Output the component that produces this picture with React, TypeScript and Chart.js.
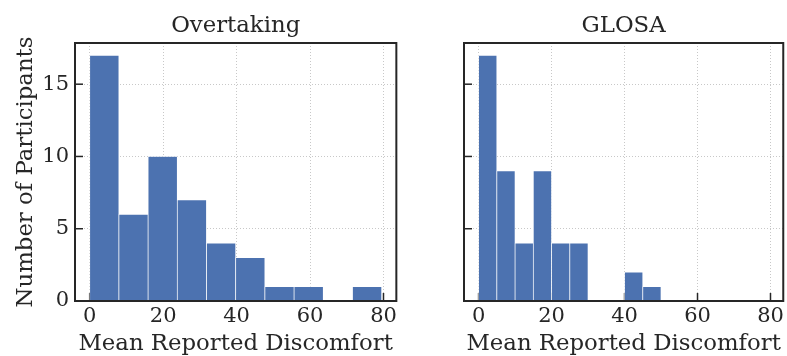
import React, { useEffect, useRef } from "react";
import { Chart, registerables } from "chart.js";

Chart.register(...registerables);

// ---- data ----
const overtakingTitle = "Overtaking";
const overtakingBinCenters = [3.98, 11.93, 19.88, 27.83, 35.78, 43.73, 51.68, 59.63, 67.58, 75.53];
const overtakingCounts = [17, 6, 10, 7, 4, 3, 1, 1, 0, 1];

const glosaTitle = "GLOSA";
const glosaBinCenters = [2.5, 7.5, 12.5, 17.5, 22.5, 27.5, 32.5, 37.5, 42.5, 47.5];
const glosaCounts = [17, 9, 4, 9, 4, 4, 0, 0, 2, 1];

const xTickValues = [0, 20, 40, 60, 80];
const yTickValues = [0, 5, 10, 15];
const xAxisLabel = "Mean Reported Discomfort";
const yAxisLabel = "Number of Participants";

const X_MIN = -4;
const X_MAX = 83.5;
const Y_MAX = 17.85;

// ---- styles ----
const FONT = "'DejaVu Serif', serif";
const TEXT = "#262626";
const BAR = "#4C72B0";
const GRID = "#c8c8c8";
const LABEL_SIZE = 22.8;
const TICK_SIZE = 21;

const framePlugin = {
  id: "frameAndTicks",
  beforeDatasetsDraw(chart: any) {
    const { ctx, chartArea } = chart;
    const xs = chart.scales.x;
    const ys = chart.scales.y;
    ctx.save();
    ctx.strokeStyle = TEXT;
    ctx.lineWidth = 1.5;
    const len = 8;
    xTickValues.forEach((v) => {
      const px = xs.getPixelForValue(v);
      ctx.beginPath();
      ctx.moveTo(px, chartArea.bottom);
      ctx.lineTo(px, chartArea.bottom - len);
      ctx.stroke();
    });
    yTickValues.forEach((v) => {
      const py = ys.getPixelForValue(v);
      ctx.beginPath();
      ctx.moveTo(chartArea.left, py);
      ctx.lineTo(chartArea.left + len, py);
      ctx.stroke();
    });
    ctx.restore();
  },
  afterDatasetsDraw(chart: any) {
    const { ctx, chartArea } = chart;
    ctx.save();
    ctx.strokeStyle = TEXT;
    ctx.lineWidth = 2;
    ctx.strokeRect(
      chartArea.left,
      chartArea.top,
      chartArea.right - chartArea.left,
      chartArea.bottom - chartArea.top
    );
    ctx.restore();
  },
};

type PanelProps = {
  title: string;
  centers: number[];
  counts: number[];
  showY: boolean;
  left: number;
  width: number;
  yWidth: number;
  padRight: number;
};

function Panel(p: PanelProps) {
  const ref = useRef<HTMLCanvasElement | null>(null);
  useEffect(() => {
    if (!ref.current) return;
    const chart = new Chart(ref.current, {
      type: "bar",
      data: {
        datasets: [
          {
            data: p.centers.map((c, i) => ({ x: c, y: p.counts[i] })),
            xAxisID: "xb",
            yAxisID: "y",
            backgroundColor: BAR,
            borderColor: "#ffffff",
            borderWidth: 0.7,
            borderSkipped: false,
            barPercentage: 1,
            categoryPercentage: 1,
          } as any,
        ],
      },
      options: {
        responsive: false,
        animation: false,
        devicePixelRatio: 1,
        layout: { padding: { left: 0, right: p.padRight, top: 0, bottom: 0 } },
        plugins: {
          legend: { display: false },
          tooltip: { enabled: false },
          title: {
            display: true,
            fullSize: false,
            text: p.title,
            color: TEXT,
            font: { family: FONT, size: LABEL_SIZE, weight: "normal", lineHeight: 1.2 },
            padding: { top: 12, bottom: 43 - 12 - LABEL_SIZE * 1.2 },
          },
        },
        scales: {
          x: {
            type: "linear",
            min: X_MIN,
            max: X_MAX,
            offset: false,
            afterBuildTicks: (a: any) => {
              a.ticks = xTickValues.map((v) => ({ value: v }));
            },
            afterFit: (s: any) => {
              s.height = 55;
            },
            grid: { color: GRID, lineWidth: 1, drawTicks: false, offset: false },
            border: { display: false, dash: [1, 2] },
            ticks: {
              color: TEXT,
              font: { family: FONT, size: TICK_SIZE },
              padding: 3,
              maxRotation: 0,
              autoSkip: false,
            },
            title: {
              display: true,
              text: xAxisLabel,
              color: TEXT,
              font: { family: FONT, size: LABEL_SIZE, lineHeight: 1 },
              padding: { top: 0, bottom: 1 },
            },
          },
          xb: {
            type: "linear",
            axis: "x",
            display: false,
            min: X_MIN,
            max: X_MAX,
            offset: false,
            grid: { offset: false },
            afterBuildTicks: (a: any) => {
              a.ticks = p.centers.map((v) => ({ value: v }));
            },
          },
          y: {
            type: "linear",
            min: 0,
            max: Y_MAX,
            afterBuildTicks: (a: any) => {
              a.ticks = yTickValues.map((v) => ({ value: v }));
            },
            afterFit: (s: any) => {
              s.width = p.yWidth;
            },
            grid: { color: GRID, lineWidth: 1, drawTicks: false },
            border: { display: false, dash: [1, 2] },
            ticks: {
              display: p.showY,
              color: TEXT,
              font: { family: FONT, size: TICK_SIZE },
              padding: 6,
            },
            title: {
              display: p.showY,
              text: yAxisLabel,
              color: TEXT,
              font: { family: FONT, size: LABEL_SIZE, lineHeight: 1.2 },
              padding: { top: 12, bottom: 0 },
            },
          },
        } as any,
      },
      plugins: [framePlugin],
    } as any);
    return () => chart.destroy();
  }, []);
  return (
    <canvas
      ref={ref}
      width={p.width}
      height={356}
      style={{ position: "absolute", left: p.left, top: 0, width: p.width, height: 356 }}
    />
  );
}

export default function App() {
  return (
    <div style={{ position: "absolute", left: 0, top: 0, width: 787, height: 356, background: "#ffffff" }}>
      <Panel
        title={overtakingTitle}
        centers={overtakingBinCenters}
        counts={overtakingCounts}
        showY={true}
        left={0}
        width={400}
        yWidth={75}
        padRight={2}
      />
      <Panel
        title={glosaTitle}
        centers={glosaBinCenters}
        counts={glosaCounts}
        showY={false}
        left={400}
        width={387}
        yWidth={64}
        padRight={2}
      />
    </div>
  );
}
